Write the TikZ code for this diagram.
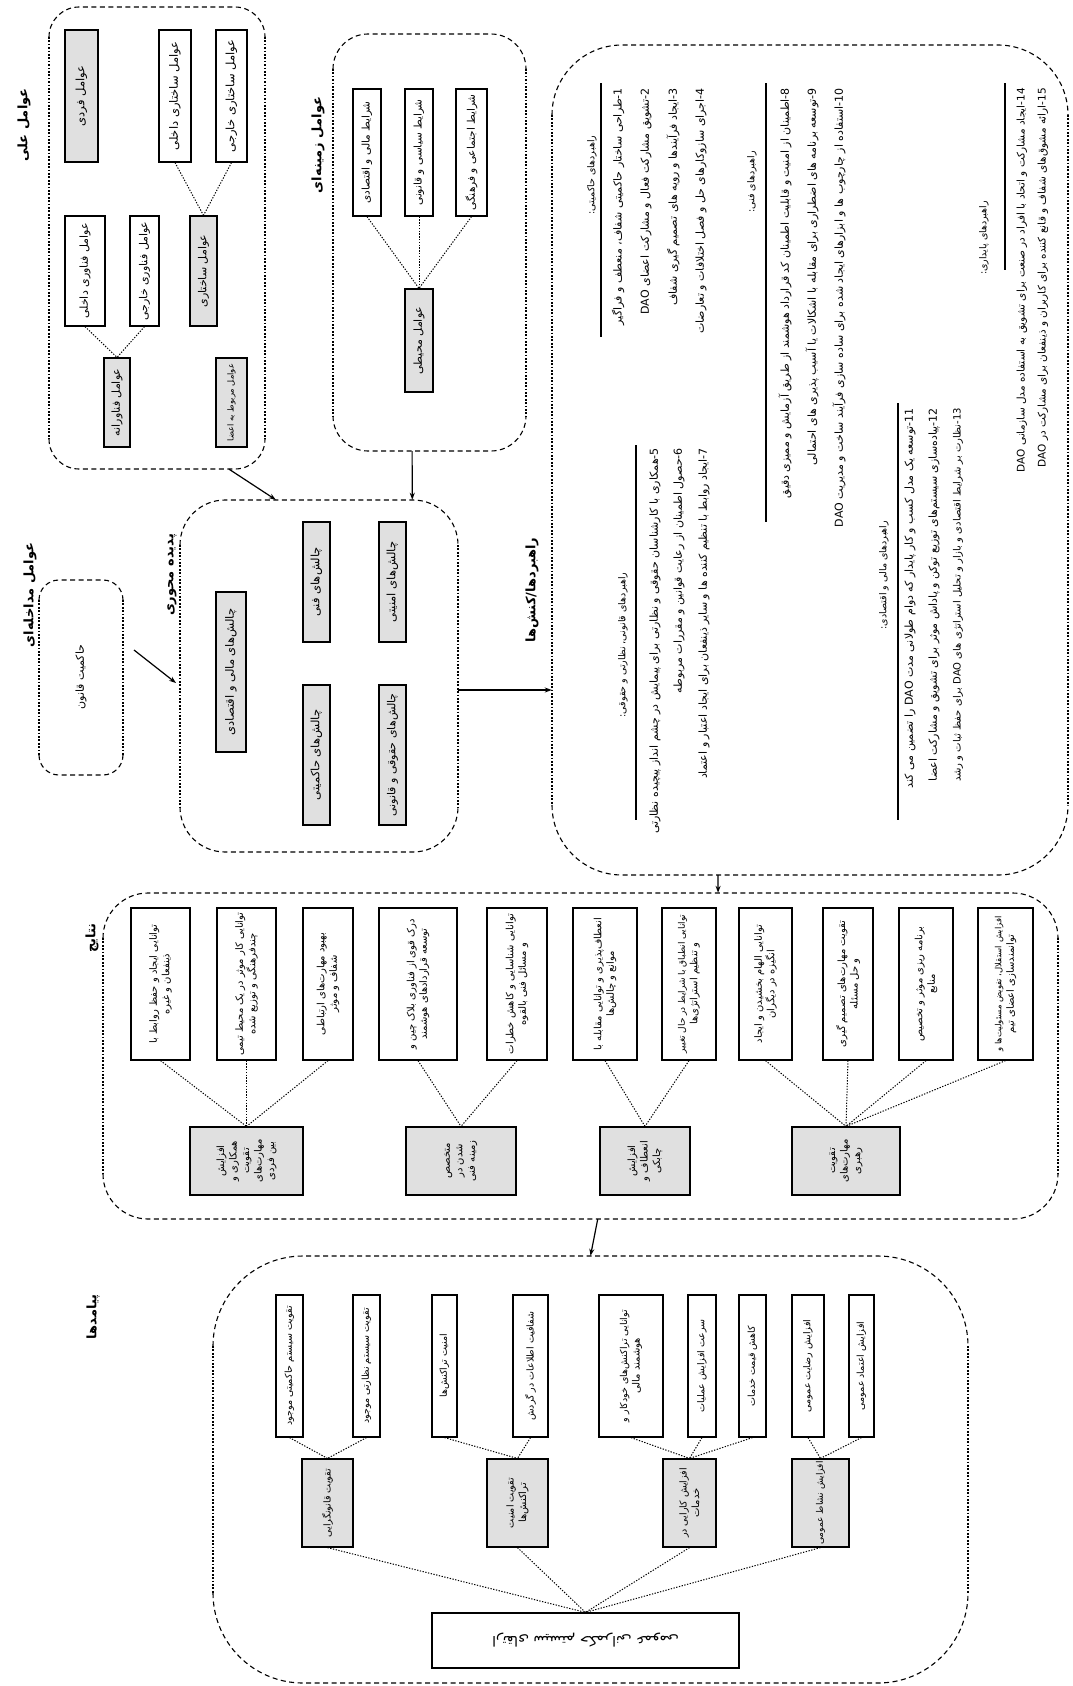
\documentclass[tikz,border=0pt]{standalone}
\usepackage{fontspec}
\newfontfamily\fa[Script=Arabic]{DejaVu Sans}
\TeXXeTstate=1
\usetikzlibrary{fit,calc,arrows.meta}
\newcommand{\R}[1]{\beginR #1\endR}
\newcommand{\fs}[1]{\fontsize{#1}{1.25\dimexpr #1pt\relax}\selectfont}
\newcommand{\mybox}[7]{\node[#2, fit={(#3,#4) (#5,#6)}] (#1) {};\node[txt] (#1-t) at (#1.center) {#7};}
\newcommand{\cont}[6]{%
  \node[fit={(#2,#3) (#4,#5)}, inner sep=0pt] (#1) {};
  \draw[cdash, rounded corners=#6pt] (#2,#3+#6) -- (#2,#3) -- (#4,#3) -- (#4,#3+#6);
  \draw[cdash, rounded corners=#6pt] (#2,#5-#6) -- (#2,#5) -- (#4,#5) -- (#4,#5-#6);
  \draw[cdot] (#2,#3+#6) -- (#2,#5-#6);
  \draw[cdot] (#4,#3+#6) -- (#4,#5-#6);}
\newcommand{\itm}[4]{\node[item] (#1) at (#2,#3) {#4};}
\begin{document}
\begin{tikzpicture}[x=1pt,y=-1pt,
  bxw/.style={draw, line width=1.2pt, inner sep=0pt, fill=white},
  bxg/.style={draw, line width=1.2pt, inner sep=0pt, fill=black!12},
  txt/.style={rotate=90, font=\fa\fontsize{10}{12.5}\selectfont, align=center, inner sep=0pt},
  head/.style={rotate=90, font=\fa\bfseries\fontsize{13}{15}\selectfont, inner sep=0pt},
  shead/.style={rotate=90, font=\fa\fontsize{9.5}{11}\selectfont, inner sep=0pt},
  item/.style={rotate=90, anchor=east, font=\fa\fontsize{11}{13}\selectfont, inner sep=0pt},
  link/.style={dash pattern=on 1.3pt off 1.5pt, line width=1pt},
  cdash/.style={dash pattern=on 5pt off 3.5pt, line width=1.1pt},
  cdot/.style={dash pattern=on 1.7pt off 1.7pt, line width=1.3pt},
  arr/.style={-{Stealth[length=7pt,width=5pt]}, line width=1.2pt},
  rul/.style={line width=1.3pt},
]
\fill[white] (0,0) rectangle (1073,1686);
\useasboundingbox (0,0) rectangle (1073,1686);

% ---------- causal conditions ----------
\cont{causal}{49}{7}{265}{469}{30}
\node[head] (h-causal) at (24,125) {\R{عوامل علی}};
\mybox{fardi}{bxg}{65}{30}{98}{162}{\fs{11.5}\R{عوامل فردی}}
\mybox{sakhtd}{bxw}{159}{30}{191}{162}{\fs{11.5}\R{عوامل ساختاری داخلی}}
\mybox{sakhtk}{bxw}{216}{30}{247}{162}{\fs{11.5}\R{عوامل ساختاری خارجی}}
\mybox{fand}{bxw}{65}{216}{105}{326}{\fs{11}\R{عوامل فناوری داخلی}}
\mybox{fank}{bxw}{130}{216}{159}{326}{\fs{11}\R{عوامل فناوری خارجی}}
\mybox{sakht}{bxg}{190}{216}{217}{326}{\fs{11}\R{عوامل ساختاری}}
\mybox{fanav}{bxg}{104}{358}{130}{447}{\fs{11}\R{عوامل فناورانه}}
\mybox{aza}{bxg}{216}{358}{247}{447}{\fs{8.3}\R{عوامل مربوط به اعضا}}
\draw[link] (fand.south) -- (fanav.north);
\draw[link] (fank.south) -- (fanav.north);
\draw[link] (sakhtd.south) -- (sakht.north);
\draw[link] (sakhtk.south) -- (sakht.north);

% ---------- context ----------
\cont{context}{333}{34}{526}{451}{35}
\node[head] (h-context) at (318,145) {\R{عوامل زمینه‌ای}};
\mybox{mali}{bxw}{353}{89}{381}{216}{\fs{10.5}\R{شرایط مالی و اقتصادی}}
\mybox{siasi}{bxw}{405}{89}{433}{216}{\fs{10.5}\R{شرایط سیاسی و قانونی}}
\mybox{ejt}{bxw}{456}{89}{487}{216}{\fs{10.5}\R{شرایط اجتماعی و فرهنگی}}
\mybox{mohiti}{bxg}{405}{289}{433}{392}{\fs{11}\R{عوامل محیطی}}
\draw[link] (mali.south) -- (mohiti.north);
\draw[link] (siasi.south) -- (mohiti.north);
\draw[link] (ejt.south) -- (mohiti.north);

% ---------- intervening ----------
\cont{interv}{39}{580}{123}{775}{20}
\node[head] (h-interv) at (30,595) {\R{عوامل مداخله‌ای}};
\node[txt] (interv-t) at (81,677) {\fs{11}\R{حاکمیت قانون}};

% ---------- phenomenon ----------
\cont{phen}{180}{500}{458}{852}{45}
\node[head] (h-phen) at (172,575) {\R{پدیده محوری}};
\mybox{p1}{bxg}{216}{592}{246}{752}{\fs{11.5}\R{چالش‌های مالی و اقتصادی}}
\mybox{p2}{bxg}{303}{522}{330}{642}{\fs{11.5}\R{چالش‌های فنی}}
\mybox{p3}{bxg}{303}{685}{330}{825}{\fs{11.5}\R{چالش‌های حاکمیتی}}
\mybox{p4}{bxg}{379}{522}{406}{642}{\fs{11.5}\R{چالش‌های امنیتی}}
\mybox{p5}{bxg}{379}{685}{406}{825}{\fs{11}\R{چالش‌های حقوقی و قانونی}}

% arrows into phenomenon
\draw[arr] ($(causal.south west)!0.833!(causal.south east)$) -- ($(phen.north west)!0.345!(phen.north east)$);
\draw[arr] ($(context.south west)!0.41!(context.south east)$) -- ($(phen.north west)!0.835!(phen.north east)$);
\coordinate (ia) at (134,650);
\coordinate (ib) at (176,683);
\draw[arr] (ia) -- (ib);

% ---------- strategies ----------
\cont{strat}{552}{45}{1068}{875}{70}
\node[head] (h-strat) at (532,590) {\R{راهبردها/کنش‌ها}};
\draw[arr] ($(phen.east)+(0,14)$) -- ($(strat.west |- phen.east)+(0,14)$);

\node[shead] (s1) at (592,175) {\R{راهبردهای حاکمیتی:}};
\coordinate (r1a) at (601,83); \coordinate (r1b) at (601,337);
\draw[rul] (r1a) -- (r1b);
\itm{i1}{618}{88}{\R{1-طراحی ساختار حاکمیتی شفاف، منعطف و فراگیر}}
\itm{i2}{646}{88}{\R{2-تشویق مشارکت فعال و مشارکت اعضای DAO}}
\itm{i3}{673}{88}{\R{3-ایجاد فرآیندها و رویه های تصمیم گیری شفاف}}
\itm{i4}{701}{88}{\R{4-اجرای سازوکارهای حل و فصل اختلافات و تعارضات}}

\node[shead] (s2) at (752,182) {\R{راهبردهای فنی:}};
\coordinate (r2a) at (766,83); \coordinate (r2b) at (766,522);
\draw[rul] (r2a) -- (r2b);
\itm{i8}{785}{88}{\R{8-اطمینان از امنیت و قابلیت اطمینان کد قرارداد هوشمند از طریق آزمایش و ممیزی دقیق}}
\itm{i9}{812}{88}{\R{9-توسعه برنامه های اضطراری برای مقابله با اشکالات یا آسیب پذیری های احتمالی}}
\itm{i10}{839}{88}{\R{10-استفاده از چارچوب ها و ابزارهای ایجاد شده برای ساده سازی فرآیند ساخت و مدیریت DAO}}

\node[shead] (s3) at (623,645) {\R{راهبردهای قانونی، نظارتی و حقوقی:}};
\coordinate (r3a) at (636,445); \coordinate (r3b) at (636,820);
\draw[rul] (r3a) -- (r3b);
\itm{i5}{655}{448}{\R{5-همکاری با کارشناسان حقوقی و نظارتی برای پیمایش در چشم انداز پیچیده نظارتی}}
\itm{i6}{679}{448}{\R{6-حصول اطمینان از رعایت قوانین و مقررات مربوطه}}
\itm{i7}{704}{448}{\R{7-ایجاد روابط با تنظیم کننده ها و سایر ذینفعان برای ایجاد اعتبار و اعتماد}}

\node[shead] (s4) at (884,575) {\R{راهبردهای مالی و اقتصادی:}};
\coordinate (r4a) at (898,403); \coordinate (r4b) at (898,820);
\draw[rul] (r4a) -- (r4b);
\itm{i11}{910}{408}{\R{11-توسعه یک مدل کسب و کار پایدار که دوام طولانی مدت DAO را تضمین می کند}}
\itm{i12}{934}{408}{\R{12-پیاده‌سازی سیستم‌های توزیع توکن و پاداش موثر برای تشویق و مشارکت اعضا}}
\itm{i13}{958}{408}{\fs{10}\R{13-نظارت بر شرایط اقتصادی و بازار و تحلیل استراتژی های DAO برای حفظ ثبات و رشد}}

\node[shead] (s5) at (984,238) {\R{راهبردهای پایداری:}};
\coordinate (r5a) at (1005,83); \coordinate (r5b) at (1005,270);
\draw[rul] (r5a) -- (r5b);
\itm{i14}{1022}{88}{\fs{10.5}\R{14-ایجاد مشارکت و اتحاد با افراد در صنعت برای تشویق به استفاده مدل سازمانی DAO}}
\itm{i15}{1043}{88}{\fs{10.5}\R{15-ارائه مشوق‌های شفاف و قانع کننده برای کاربران و ذینفعان برای مشارکت در DAO}}

% ---------- results ----------
\cont{res}{103}{893}{1058}{1219}{45}
\node[head] (h-res) at (92,938) {\R{نتایج}};
\draw[arr] ($(strat.south west)!0.322!(strat.south east)$) -- ($(res.north west)!0.644!(res.north east)$);
\mybox{ra}{bxw}{131}{908}{190}{1060}{\R{توانایی ایجاد و حفظ روابط با}\\\R{ذینفعان و غیره}}
\mybox{rb}{bxw}{217}{908}{276}{1060}{\R{توانایی کار موثر در یک محیط تیمی}\\\R{چندفرهنگی و توزیع شده}}
\mybox{rc}{bxw}{303}{908}{353}{1060}{\R{بهبود مهارت‌های ارتباطی}\\\R{شفاف و موثر}}
\mybox{rd}{bxw}{379}{908}{457}{1060}{\R{درک قوی از فناوری بلاک چین و}\\\R{توسعه قراردادهای هوشمند}}
\mybox{re}{bxw}{487}{908}{547}{1060}{\R{توانایی شناسایی و کاهش خطرات}\\\R{و مسائل فنی بالقوه}}
\mybox{rf}{bxw}{573}{908}{637}{1060}{\R{انعطاف‌پذیری و توانایی مقابله با}\\\R{موانع و چالش‌ها}}
\mybox{rg}{bxw}{662}{908}{716}{1060}{\fs{9}\R{توانایی انطباق با شرایط در حال تغییر}\\\R{و تنظیم استراتژی‌ها}}
\mybox{rh}{bxw}{739}{908}{792}{1060}{\R{توانایی الهام بخشیدن و ایجاد}\\\R{انگیزه در دیگران}}
\mybox{ri}{bxw}{823}{908}{873}{1060}{\R{تقویت مهارت‌های تصمیم گیری}\\\R{و حل مسئله}}
\mybox{rj}{bxw}{899}{908}{953}{1060}{\R{برنامه ریزی موثر و تخصیص}\\\R{منابع}}
\mybox{rk}{bxw}{978}{908}{1033}{1060}{\fs{8.5}\R{افزایش استقلال، تفویض مسئولیت‌ها و}\\\R{توانمندسازی اعضای تیم}}
\mybox{G1}{bxg}{190}{1127}{303}{1195}{\R{افزایش}\\\R{همکاری و}\\\R{تقویت}\\\R{مهارت‌های}\\\R{بین فردی}}
\mybox{G2}{bxg}{406}{1127}{516}{1195}{\R{متخصص}\\\R{شدن در}\\\R{زمینه فنی}}
\mybox{G3}{bxg}{600}{1127}{690}{1195}{\R{افزایش}\\\R{انعطاف و}\\\R{چابکی}}
\mybox{G4}{bxg}{792}{1127}{900}{1195}{\R{تقویت}\\\R{مهارت‌های}\\\R{رهبری}}
\foreach \a/\b in {ra/G1,rb/G1,rc/G1,rd/G2,re/G2,rf/G3,rg/G3,rh/G4,ri/G4,rj/G4,rk/G4}
  \draw[link] (\a.south) -- (\b.north);

% ---------- consequences ----------
\cont{cons}{213}{1256}{968}{1683}{90}
\node[head] (h-cons) at (93,1317) {\R{پیامدها}};
\draw[arr] ($(res.south west)!0.518!(res.south east)$) -- ($(cons.north west)!0.5!(cons.north east)$);
\mybox{ca}{bxw}{276}{1295}{303}{1437}{\fs{9.5}\R{تقویت سیستم حاکمیتی موجود}}
\mybox{cb}{bxw}{353}{1295}{380}{1437}{\fs{9.5}\R{تقویت سیستم نظارتی موجود}}
\mybox{cc}{bxw}{432}{1295}{457}{1437}{\fs{9.5}\R{امنیت تراکنش‌ها}}
\mybox{cd}{bxw}{513}{1295}{548}{1437}{\fs{9.5}\R{شفافیت اطلاعات در گردش}}
\mybox{ce}{bxw}{599}{1295}{663}{1437}{\fs{9.5}\R{توانایی تراکنش‌های خودکار و}\\\R{هوشمند مالی}}
\mybox{cf}{bxw}{688}{1295}{716}{1437}{\fs{9.5}\R{سرعت افزایش عملیات}}
\mybox{cg}{bxw}{739}{1295}{766}{1437}{\fs{9.5}\R{کاهش قیمت خدمات}}
\mybox{ch}{bxw}{792}{1295}{824}{1437}{\fs{9.5}\R{افزایش رضایت عمومی}}
\mybox{ci}{bxw}{849}{1295}{874}{1437}{\fs{9.5}\R{افزایش اعتماد عمومی}}
\mybox{CA}{bxg}{302}{1459}{353}{1547}{\fs{9.5}\R{تقویت قانونگرایی}}
\mybox{CB}{bxg}{487}{1459}{548}{1547}{\fs{9.5}\R{تقویت امنیت}\\\R{تراکنش‌ها}}
\mybox{CC}{bxg}{663}{1459}{716}{1547}{\fs{9.5}\R{افزایش کارایی در}\\\R{خدمات}}
\mybox{CD}{bxg}{792}{1459}{849}{1547}{\fs{9}\R{افزایش نشاط عمومی}}
\foreach \a/\b in {ca/CA,cb/CA,cc/CB,cd/CB,ce/CC,cf/CC,cg/CC,ch/CD,ci/CD}
  \draw[link] (\a.south) -- (\b.north);
\node[bxw, fit={(432,1613) (739,1668)}] (final) {};
\node[font=\fa\fontsize{14}{16}\selectfont, rotate=180, inner sep=0pt] (final-t) at (final.center) {\R{ارتقای سیستم حکمرانی عمومی}};
\foreach \a in {CA,CB,CC,CD}
  \draw[link] (\a.south) -- (final.north);
\end{tikzpicture}
\end{document}
